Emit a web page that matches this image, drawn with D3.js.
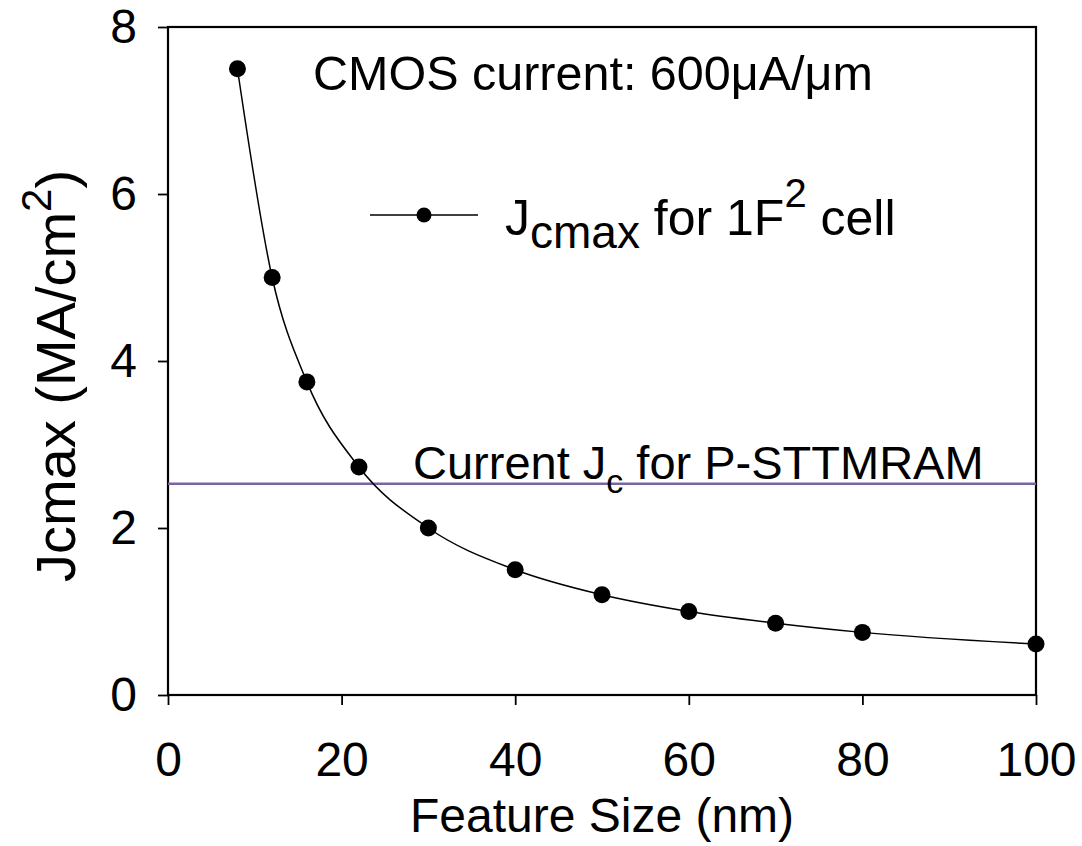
<!DOCTYPE html>
<html>
<head>
<meta charset="utf-8">
<script src="https://cdn.jsdelivr.net/npm/d3@7"></script>
<style>
  body { margin: 0; background: #fff; }
  text { font-family: "Liberation Sans", Arial, sans-serif; fill: #000; }
</style>
</head>
<body>
<div id="my_dataviz"></div>
<script>
// data
var featureSize = [8, 12, 16, 22, 30, 40, 50, 60, 70, 80, 100];
var jcMax = [7.5, 5.0, 3.75, 2.73, 2.0, 1.5, 1.2, 1.0, 0.86, 0.75, 0.61];
var currentJc = 2.53;
var xTicks = [0, 20, 40, 60, 80, 100];
var yTicks = [0, 2, 4, 6, 8];

// set the dimensions and margins of the graph
var margin = { top: 27, right: 46, bottom: 151, left: 168 },
  width = 1082 - margin.left - margin.right,
  height = 846 - margin.top - margin.bottom;

var svg = d3.select("#my_dataviz")
  .append("svg")
  .attr("width", width + margin.left + margin.right)
  .attr("height", height + margin.top + margin.bottom)
  .append("g")
  .attr("transform", "translate(" + margin.left + "," + margin.top + ")");

var x = d3.scaleLinear().domain([0, 100]).range([0, width]);
var y = d3.scaleLinear().domain([0, 8]).range([height, 0]);

// X axis
var xAxis = svg.append("g")
  .attr("transform", "translate(0," + height + ")")
  .call(d3.axisBottom(x).tickValues(xTicks).tickSize(10).tickSizeOuter(0).tickPadding(37));
// Y axis
var yAxis = svg.append("g")
  .call(d3.axisLeft(y).tickValues(yTicks).tickSize(10).tickSizeOuter(0).tickPadding(21));

[xAxis, yAxis].forEach(function (a) {
  a.selectAll("text").style("font-size", "48px").style("font-family", "Liberation Sans, Arial, sans-serif");
  a.selectAll("line").attr("stroke", "#000").attr("stroke-width", 1.8);
  a.select(".domain").attr("stroke", "none");
});

// frame
svg.append("rect")
  .attr("x", 0).attr("y", 0)
  .attr("width", width).attr("height", height)
  .attr("fill", "none")
  .attr("stroke", "#000")
  .attr("stroke-width", 2.2);

// current Jc reference line
svg.append("line")
  .attr("x1", x(0)).attr("x2", x(100))
  .attr("y1", y(currentJc)).attr("y2", y(currentJc))
  .attr("stroke", "#7b65a0")
  .attr("stroke-width", 2.5);

var data = featureSize.map(function (d, i) { return { f: d, j: jcMax[i] }; });

// the curve
svg.append("path")
  .datum(data)
  .attr("fill", "none")
  .attr("stroke", "#000")
  .attr("stroke-width", 1.5)
  .attr("d", d3.line()
    .curve(d3.curveMonotoneX)
    .x(function (d) { return x(d.f) })
    .y(function (d) { return y(d.j) }));

svg.selectAll("circle.pt")
  .data(data)
  .enter()
  .append("circle")
  .attr("class", "pt")
  .attr("cx", function (d) { return x(d.f) })
  .attr("cy", function (d) { return y(d.j) })
  .attr("r", 8.5)
  .attr("fill", "#000");

// annotations
svg.append("text")
  .attr("x", 313 - margin.left)
  .attr("y", 90 - margin.top)
  .style("font-size", "48.5px")
  .text("CMOS current: 600\u03bcA/\u03bcm");

var cur = svg.append("text")
  .attr("x", 413 - margin.left)
  .attr("y", 479 - margin.top)
  .style("font-size", "47px");
cur.append("tspan").text("Current J");
cur.append("tspan").attr("dy", 14).style("font-size", "34px").text("c");
cur.append("tspan").attr("dy", -14).text(" for P-STTMRAM");

// legend
var lg = svg.append("g").attr("transform", "translate(0," + (215 - margin.top) + ")");
lg.append("line")
  .attr("x1", 370 - margin.left).attr("x2", 478 - margin.left)
  .attr("stroke", "#000").attr("stroke-width", 1.5);
lg.append("circle")
  .attr("cx", 424 - margin.left).attr("r", 7.5).attr("fill", "#000");
var lt = lg.append("text")
  .attr("x", 505 - margin.left)
  .attr("y", 20)
  .style("font-size", "50px");
lt.append("tspan").text("J");
lt.append("tspan").attr("dy", 13).style("font-size", "46px").text("cmax");
lt.append("tspan").attr("dy", -13).text(" for 1F");
lt.append("tspan").attr("dy", -28).style("font-size", "40px").text("2");
lt.append("tspan").attr("dy", 28).text(" cell");

// axis titles
svg.append("text")
  .attr("x", width / 2)
  .attr("y", 832 - margin.top)
  .attr("text-anchor", "middle")
  .style("font-size", "48px")
  .text("Feature Size (nm)");

var yl = svg.append("text")
  .attr("transform", "translate(" + (75 - margin.left) + "," + (376 - margin.top) + ") rotate(-90)")
  .attr("text-anchor", "middle")
  .style("font-size", "56px");
yl.append("tspan").text("Jcmax (MA/cm");
yl.append("tspan").attr("dy", -24).style("font-size", "42px").text("2");
yl.append("tspan").attr("dy", 24).text(")");
</script>
</body>
</html>
